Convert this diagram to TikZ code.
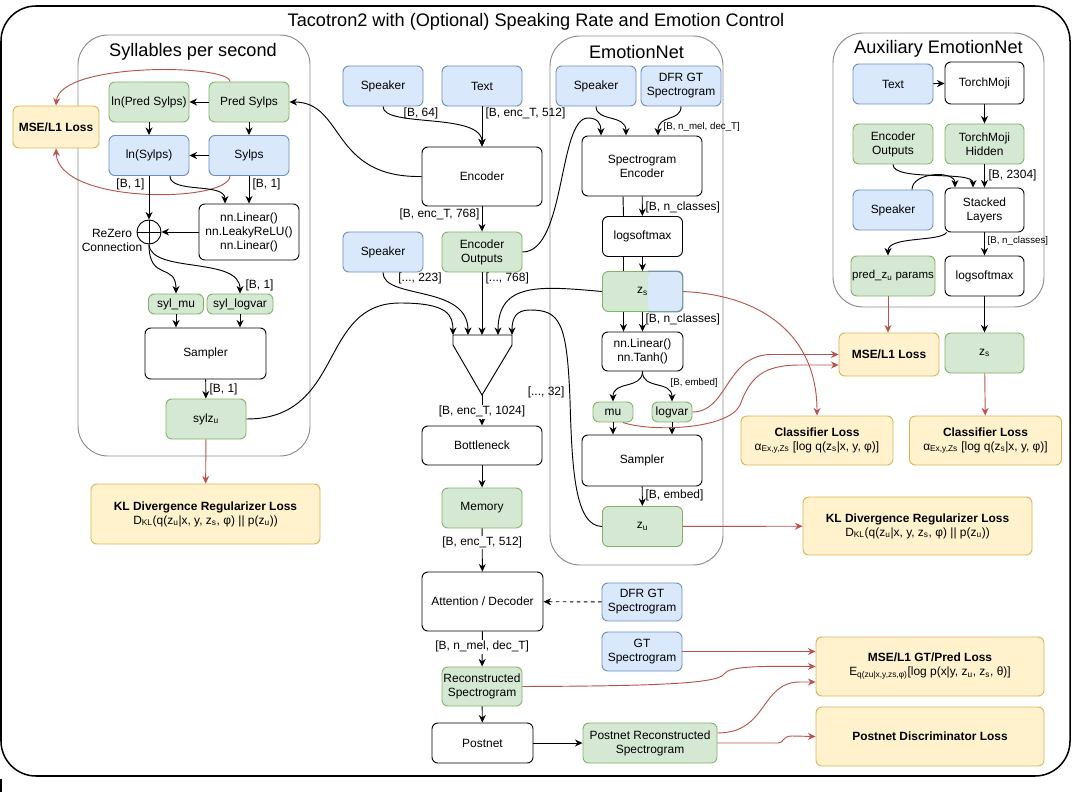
\documentclass[tikz,border=0pt]{standalone}
\usepackage{fontspec}
\setmainfont{Liberation Sans}
\usepackage{tikz}
\usetikzlibrary{arrows.meta, calc, positioning, shapes}

\definecolor{bluefill}{HTML}{DAE8FC}
\definecolor{bluedraw}{HTML}{6C8EBF}
\definecolor{grnfill}{HTML}{D5E8D4}
\definecolor{grndraw}{HTML}{82B366}
\definecolor{ylwfill}{HTML}{FFF2CC}
\definecolor{ylwdraw}{HTML}{D6B656}
\definecolor{lossred}{HTML}{B85450}
\definecolor{grpgray}{HTML}{8A8A8A}

\begin{document}
\begin{tikzpicture}[x=0.03cm, y=-0.03cm, line width=0.8pt,
		font=\fontsize{10.2}{11.9}\selectfont,
		>={Stealth[length=6.5pt,width=6pt]},
		box/.style={rounded corners=5pt, minimum width=2.4cm, minimum height=1.2cm, align=center, inner sep=1pt},
		blu/.style={box, draw=bluedraw, fill=bluefill},
		grn/.style={box, draw=grndraw, fill=grnfill},
		ylw/.style={box, draw=ylwdraw, fill=ylwfill},
		wht/.style={box, draw=black, fill=white},
		grp/.style={draw=grpgray, rounded corners=0.9cm},
		grptitle/.style={font=\fontsize{15.5}{18}\selectfont},
		lbl/.style={inner sep=1pt},
		smalllbl/.style={inner sep=1pt, font=\fontsize{8.3}{10}\selectfont},
		loss/.style={->, draw=lossred}]
			\useasboundingbox (0,0) rectangle (1076,792);
			\draw[line width=1.3pt, rounded corners=1.05cm] (1,6) rectangle (1070,776);
			\draw[line width=1.3pt] (1,779) -- (1,792);
			\node(title) [grptitle] at (536,22) {Tacotron2 with (Optional) Speaking Rate and Emotion Control};
			
			\draw[grp] (78,35) rectangle (310,456);
			\node(gsyl) [grptitle] at (193,52) {Syllables per second};
			\draw[grp] (550,36) rectangle (723,565);
			\node(gemo) [grptitle] at (636.5,52) {EmotionNet};
			\draw[grp] (833,33) rectangle (1044,307);
			\node(gaux) [grptitle] at (938.5,49) {Auxiliary EmotionNet};
			
			\node(lnpred) [grn] at (149,102) {ln(Pred Sylps)};
			\node(pred) [grn] at (249,102) {Pred Sylps};
			\node(lnsyl) [blu] at (149,155.5) {ln(Sylps)};
			\node(syl) [blu] at (249,155.5) {Sylps};
			\node(mse1) [ylw, minimum width=2.58cm, minimum height=1.26cm] at (56,127) {\textbf{MSE/L1 Loss}};
			\node(mlp) [wht, minimum width=3cm, minimum height=1.68cm] at (249,232) {nn.Linear()\\nn.LeakyReLU()\\nn.Linear()};
			\node(rz) [circle, draw, minimum size=0.72cm, inner sep=0pt] at (149,232) {};
			\node(rzl) [lbl, align=center] at (112,240) {ReZero\\Connection};
			\node(mu1) [grn, minimum width=1.65cm, minimum height=0.6cm] at (176,304) {syl\_mu};
			\node(lv1) [grn, minimum width=1.98cm, minimum height=0.6cm] at (240,304) {syl\_logvar};
			\node(samp1) [wht, minimum width=3.63cm, minimum height=1.53cm] at (205.5,353.5) {Sampler};
			\node(sylz) [grn] at (206,419) {sylz\textsubscript{u}};
			\node(kl1) [ylw, minimum width=6.87cm, minimum height=1.8cm] at (205.5,514) {\textbf{KL Divergence Regularizer Loss}\\D\textsubscript{KL}(q(z\textsubscript{u}|x, y, z\textsubscript{s}, φ) || p(z\textsubscript{u}))};
			
			\node(spk1) [blu] at (383,86) {Speaker};
			\node(txt1) [blu] at (482,86) {Text};
			\node(enc) [wht, minimum width=3.6cm, minimum height=1.77cm] at (482,176.5) {Encoder};
			\node(spk2) [blu] at (383,252) {Speaker};
			\node(encout) [grn] at (482,252) {Encoder\\Outputs};
			\coordinate(c1) at (453,335);
			\coordinate(c2) at (468,335);
			\coordinate(c3) at (482,335);
			\coordinate(c4) at (498,335);
			\coordinate(c5) at (512,335);
			\coordinate(tip) at (482,395);
			\node(bneck) [wht, minimum width=3.6cm, minimum height=1.17cm] at (482,445.5) {Bottleneck};
			\node(mem) [grn] at (482,508) {Memory};
			\node(attn) [wht, minimum width=3.63cm, minimum height=1.77cm] at (482.5,601.5) {Attention / Decoder};
			\node(dfr2) [blu, minimum height=1.14cm] at (642,602) {DFR GT\\Spectrogram};
			\node(gt) [blu, minimum height=1.17cm] at (642,651.5) {GT\\Spectrogram};
			\node(recon) [grn, minimum height=1.17cm] at (482,686.5) {Reconstructed\\Spectrogram};
			\node(post) [wht, minimum width=3.03cm] at (482.5,743) {Postnet};
			\node(postrec) [grn, minimum width=4.02cm] at (650,743) {Postnet Reconstructed\\Spectrogram};
			
			\node(spk3) [blu] at (596,86) {Speaker};
			\node(dfr1) [blu] at (681,86) {DFR GT\\Spectrogram};
			\node(specenc) [wht, minimum width=3.6cm, minimum height=1.8cm] at (642,166) {Spectrogram\\Encoder};
			\node(lsm1) [wht] at (642.5,236.5) {logsoftmax};
			\node(zs1) [grn, path picture={\fill[bluefill] ([xshift=0.165cm]path picture bounding box.north) rectangle (path picture bounding box.south east);}] at (642.5,291.5) {z\textsubscript{s}};
			\draw[bluedraw, rounded corners=5pt] ([xshift=0.165cm]zs1.north) -| (zs1.south east) -- ([xshift=0.165cm]zs1.south);
			\node(lin) [wht, minimum width=2.43cm, minimum height=1.17cm] at (642.5,351.5) {nn.Linear()\\nn.Tanh()};
			\node(mu2) [grn, minimum width=1.2cm, minimum height=0.6cm] at (613,412) {mu};
			\node(lv2) [grn, minimum width=1.2cm, minimum height=0.6cm] at (672,412) {logvar};
			\node(samp2) [wht, minimum width=3.6cm, minimum height=1.53cm] at (642,460.5) {Sampler};
			\node(zu) [grn] at (642.5,526.5) {z\textsubscript{u}};
			
			\node(txt2) [blu] at (893,84) {Text};
			\node(moji) [wht, minimum width=2.37cm, minimum height=1.26cm] at (984.5,83) {TorchMoji};
			\node(encout2) [grn] at (893,144) {Encoder\\Outputs};
			\node(mojih) [grn, minimum width=2.37cm] at (984.5,144) {TorchMoji\\Hidden};
			\node(spk4) [blu] at (893,210) {Speaker};
			\node(stack) [wht, minimum width=2.37cm, minimum height=1.32cm] at (984.5,210) {Stacked\\Layers};
			\node(predzu) [grn, font=\fontsize{9.8}{11}\selectfont] at (893,276) {pred\_z\textsubscript{u} params};
			\node(lsm2) [wht, minimum width=2.37cm] at (984.5,276) {logsoftmax};
			
			\node(mse2) [ylw, minimum width=3cm, minimum height=1.29cm] at (889,354.5) {\textbf{MSE/L1 Loss}};
			\node(zs2) [grn, minimum width=2.37cm] at (984.5,353) {z\textsubscript{s}};
			\node(cls1) [ylw, minimum width=4.56cm, minimum height=1.47cm] at (817,440.5) {\textbf{Classifier Loss}\\α\textsubscript{Ex,y,Zs} [log q(z\textsubscript{s}|x, y, φ)]};
			\node(cls2) [ylw, minimum width=4.56cm, minimum height=1.47cm] at (985.5,440.5) {\textbf{Classifier Loss}\\α\textsubscript{Ex,y,Zs} [log q(z\textsubscript{s}|x, y, φ)]};
			\node(kl2) [ylw, minimum width=6.87cm, minimum height=1.74cm] at (917.5,526) {\textbf{KL Divergence Regularizer Loss}\\D\textsubscript{KL}(q(z\textsubscript{u}|x, y, z\textsubscript{s}, φ) || p(z\textsubscript{u}))};
			\node(mseg) [ylw, minimum width=6.84cm, minimum height=1.77cm] at (930,666.5) {\textbf{MSE/L1 GT/Pred Loss}\\E\textsubscript{q(zu|x,y,zs,φ)}[log p(x|y, z\textsubscript{u}, z\textsubscript{s}, θ)]};
			\node(disc) [ylw, minimum width=6.84cm, minimum height=1.77cm] at (930,736.5) {\textbf{Postnet Discriminator Loss}};
			
			\draw[->] (pred) -- (lnpred);
			\draw[->] (pred) -- (syl);
			\draw[->] (lnpred) -- (lnsyl);
			\draw[->] (syl) -- (lnsyl);
			\draw[loss] ([xshift=-0.57cm]pred.north) .. controls (229,64) and (60,62) .. (mse1.north);
			\draw[loss] ([xshift=-0.57cm]syl.south) .. controls (229,203) and (58,205) .. (mse1.south);
			\draw[->] (lnsyl) -- (rz) node(b1) [lbl, anchor=east] at (146,184) {[B, 1]};
			\draw (rz.north) -- (rz.south) (rz.west) -- (rz.east);
			\draw[->] ([xshift=0.63cm]lnsyl.south) .. controls (170,194) and (225,182) .. ([xshift=-0.72cm]mlp.north);
			\draw[->] (syl) -- (mlp) node(b2) [lbl, anchor=west] at (251,184) {[B, 1]};
			\draw[->] (mlp) -- (rz);
			\draw[->] (rz.south) .. controls (149,282) and (176,262) .. (mu1.north);
			\draw[->] (rz.south) .. controls (151,274) and (240,256) .. (lv1.north) node(b3) [lbl, anchor=west] at (244,285) {[B, 1]};
			\draw[->] (mu1) -- (mu1 |- samp1.north);
			\draw[->] (lv1) -- (lv1 |- samp1.north);
			\draw[->] (samp1) -- (sylz) node(b4) [lbl, anchor=west] at (208,389) {[B, 1]};
			\draw[loss] (sylz) -- (kl1);
			\draw[->] (sylz.east) .. controls (345,419) and (318,303) .. (400,303) .. controls (448,303) and (453,315) .. (c1);
			
			\draw[->] (spk1.south) .. controls (383,128) and (482,112) .. (enc.north) node(b5) [lbl] at (421,113) {[B, 64]};
			\draw[->] (txt1) -- (enc) node(b6) [lbl, anchor=west] at (484,113) {[B, enc\_T, 512]};
			\draw[->] (enc.west) .. controls (330,178) and (345,102) .. (pred.east);
			\draw[->] (enc) -- (encout) node(b7) [lbl, anchor=east] at (481,214) {[B, enc\_T, 768]};
			\draw[->] (spk2.south) .. controls (383,300) and (468,284) .. (c2) node(b8) [lbl] at (420,278) {[..., 223]};
			\draw[->] (encout) -- (c3) node(b9) [lbl, anchor=west] at (484,278) {[..., 768]};
			\draw[->] (encout.east) .. controls (566,252) and (558,118) .. (588,118) .. controls (598,118) and (601,124) .. ([xshift=-1.23cm]specenc.north);
			\draw (c1) -- (c5) -- (512,345) -- (tip) -- (453,345) -- cycle;
			\draw[->] (tip) -- (bneck) node(b10) [lbl, fill=white, pos=0.55] {[B, enc\_T, 1024]};
			\draw[->] (bneck) -- (mem);
			\draw[->] (mem) -- (attn) node(b11) [lbl, fill=white, pos=0.32] {[B, enc\_T, 512]};
			\draw[->, dashed] (dfr2) -- (attn);
			\draw[->] (attn) -- (recon) node(b12) [lbl, fill=white, pos=0.44] {[B, n\_mel, dec\_T]};
			\draw[->] (recon) -- (post);
			\draw[->] (post) -- (postrec);
			
			\draw[->] (spk3.south) .. controls (596,122) and (626,114) .. ([xshift=-0.48cm]specenc.north);
			\draw[->] (dfr1.south) .. controls (681,122) and (658,114) .. ([xshift=0.48cm]specenc.north) node(b13) [smalllbl, anchor=west] at (662,127) {[B, n\_mel, dec\_T]};
			\draw[->] (specenc) -- (lsm1) node(b14) [lbl, anchor=west] at (644,207) {[B, n\_classes]};
			\draw ([xshift=-0.57cm]specenc.south) -- ([xshift=-0.57cm]lsm1.north);
			\draw[->] (lsm1) -- (zs1);
			\draw ([xshift=-0.57cm]lsm1.south) -- ([xshift=-0.57cm]zs1.north);
			\draw[->] ([xshift=-0.57cm]zs1.south) -- ([xshift=-0.57cm]lin.north);
			\draw[->] (zs1) -- (lin) node(b15) [lbl, anchor=west] at (644,319) {[B, n\_classes]};
			\draw[->] (lin.south) .. controls (642,390) and (613,380) .. (mu2.north);
			\draw[->] (lin.south) .. controls (642,390) and (672,380) .. (lv2.north) node(b16) [smalllbl, anchor=west] at (669,383) {[B, embed]};
			\draw[->] (mu2) -- (mu2 |- samp2.north);
			\draw[->] (lv2) -- (lv2 |- samp2.north);
			\draw[->] (samp2) -- (zu) node(b17) [lbl, anchor=west] at (644,495) {[B, embed]};
			\draw[->] (zu.west) .. controls (575,526) and (572,470) .. (570,400) .. controls (567,322) and (560,310) .. (530,310) .. controls (516,310) and (512,318) .. (c5) node(b18) [lbl, anchor=east] at (566,392) {[..., 32]};
			\draw[->] (zs1.west) .. controls (540,286) and (498,282) .. (c4);
			
			\draw[loss] (zs1.east) .. controls (762,295) and (817,335) .. (cls1.north);
			\draw[loss] (lv2.east) .. controls (728,412) and (726,354) .. (772,354.5) -- (mse2.west);
			\draw[loss] ([xshift=0.3cm]mu2.south) .. controls (650,432) and (728,430) .. (740,405) .. controls (750,378) and (762,365) .. (800,365) -- ([yshift=-0.315cm]mse2.west);
			\draw[loss] (zu) -- (kl2);
			\draw[loss] (gt.east) -- (gt.east -| mseg.west);
			\draw[loss] (recon.east) .. controls (650,686) and (718,684) .. (724,674) .. controls (729,666) and (760,666) .. (mseg.west);
			\draw[loss] ([yshift=0.3cm]postrec.east) .. controls (768,733) and (760,682) .. (800,682) -- ([yshift=-0.465cm]mseg.west);
			\draw[loss] (postrec.east) -- (778,743) .. controls (784,743) and (782,736) .. (792,736) -- (disc.west);
			
			\draw[->] (txt2) -- (moji);
			\draw[->] (moji) -- (mojih);
			\draw[->] (mojih) -- (stack) node(b19) [lbl, anchor=west] at (987,175) {[B, 2304]};
			\draw[->] (encout2.south) .. controls (893,182) and (973,170) .. ([xshift=-0.345cm]stack.north);
			\draw[->] ([xshift=0.57cm]spk4.north) .. controls (912,172) and (955,170) .. ([xshift=-0.885cm]stack.north);
			\draw[->] ([xshift=0.06cm]stack.south west) .. controls (940,242) and (888,236) .. ([xshift=-0.15cm]predzu.north);
			\draw[->] (stack) -- (lsm2) node(b20) [smalllbl, anchor=west] at (986,241) {[B, n\_classes]};
			\draw[loss] ([xshift=-0.15cm]predzu.south) -- ([xshift=-0.15cm]predzu.south |- mse2.north);
			\draw[->] (lsm2) -- (zs2);
			\draw[loss] (zs2) -- (cls2);
		\end{tikzpicture}
\end{document}
